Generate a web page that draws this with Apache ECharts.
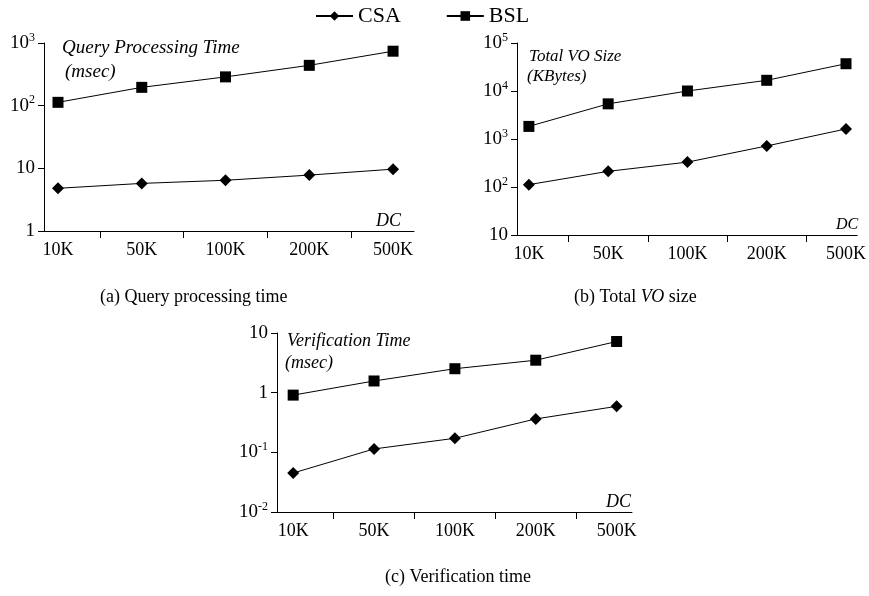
<!DOCTYPE html>
<html>
<head>
<meta charset="utf-8">
<script src="https://cdn.jsdelivr.net/npm/echarts@6/dist/echarts.min.js"></script>
<style>
html, body { margin: 0; padding: 0; background: #fff; }
#chart { width: 869px; height: 596px; }
</style>
</head>
<body>
<div id="chart"></div>
<script>
// DC sizes on the x axis
const dcLabels = ['10K', '50K', '100K', '200K', '500K'];

// (a) query processing time, msec
const queryCSA = [4.8, 5.75, 6.45, 7.8, 9.7];
const queryBSL = [113, 196, 288, 440, 740];

// (b) total VO size, KBytes
const voCSA = [112, 212, 330, 716, 1620];
const voBSL = [1830, 5400, 10000, 16700, 37000];

// (c) verification time, msec
const verCSA = [0.045, 0.114, 0.172, 0.363, 0.59];
const verBSL = [0.91, 1.57, 2.52, 3.5, 7.2];

const serif = 'Liberation Serif';

function pts(arr) {
    return arr.map((v, i) => [i, v]);
}

function logLabel(v) {
    const e = Math.round(Math.log10(v));
    if (e === 0) return '1';
    if (e === 1) return '10';
    return '10{sup|' + e + '}';
}

function xAxis(gridIndex, min, max) {
    return {
        type: 'value',
        gridIndex: gridIndex,
        min: min,
        max: max,
        splitLine: { show: false },
        axisLine: { lineStyle: { color: '#000', width: 1 } },
        axisTick: {
            customValues: [0.5, 1.5, 2.5, 3.5],
            length: 7,
            lineStyle: { color: '#000' }
        },
        axisLabel: {
            customValues: [0, 1, 2, 3, 4],
            formatter: v => dcLabels[Math.round(v)],
            color: '#000',
            fontFamily: serif,
            fontSize: 18,
            margin: 10
        }
    };
}

function yAxis(gridIndex, min, max) {
    return {
        type: 'log',
        logBase: 10,
        gridIndex: gridIndex,
        min: min,
        max: max,
        splitLine: { show: false },
        axisLine: { onZero: false, lineStyle: { color: '#000', width: 1 } },
        axisTick: { length: 6, lineStyle: { color: '#000' } },
        axisLabel: {
            formatter: logLabel,
            color: '#000',
            fontFamily: serif,
            fontSize: 19,
            margin: 9,
            rich: {
                sup: { fontFamily: serif, fontSize: 12, padding: [0, 0, 11, 0], color: '#000' }
            }
        }
    };
}

function series(name, data, idx) {
    const isCSA = name === 'CSA';
    return {
        name: name,
        type: 'line',
        xAxisIndex: idx,
        yAxisIndex: idx,
        data: pts(data),
        symbol: isCSA ? 'diamond' : 'rect',
        symbolSize: isCSA ? 12 : 11,
        itemStyle: { color: '#000' },
        lineStyle: { color: '#000', width: 1 },
        emphasis: { disabled: true }
    };
}

function txt(text, x, y, size, italic, align) {
    return {
        type: 'text',
        left: x,
        top: y,
        style: {
            text: text,
            fill: '#000',
            font: (italic ? 'italic ' : '') + size + 'px ' + serif,
            align: align || 'left',
            verticalAlign: 'middle'
        }
    };
}

var myChart = echarts.init(document.getElementById('chart'));

myChart.setOption({
    animation: false,
    legend: {
        data: ['CSA', 'BSL'],
        left: 310,
        top: 0,
        itemGap: 45,
        itemWidth: 37,
        itemHeight: 12,
        textStyle: { color: '#000', fontFamily: serif, fontSize: 22 }
    },
    grid: [
        { left: 44, top: 43, width: 370, height: 188 },
        { left: 517, top: 43, width: 346, height: 192 },
        { left: 277, top: 333, width: 355, height: 179 }
    ],
    xAxis: [
        xAxis(0, -0.167, 4.25),
        xAxis(1, -0.15, 4.14),
        xAxis(2, -0.2, 4.19)
    ],
    yAxis: [
        yAxis(0, 1, 1000),
        yAxis(1, 10, 100000),
        yAxis(2, 0.01, 10)
    ],
    series: [
        series('CSA', queryCSA, 0),
        series('BSL', queryBSL, 0),
        series('CSA', voCSA, 1),
        series('BSL', voBSL, 1),
        series('CSA', verCSA, 2),
        series('BSL', verBSL, 2)
    ],
    graphic: [
        txt('Query Processing Time', 62, 38, 19, true),
        txt('(msec)', 65, 62, 19, true),
        txt('DC', 376, 212, 18, true),
        txt('Total VO Size', 529, 48, 17, true),
        txt('(KBytes)', 527, 68, 17, true),
        txt('DC', 836, 217, 16, true),
        txt('Verification Time', 287, 332, 18, true),
        txt('(msec)', 285, 354, 18, true),
        txt('DC', 606, 493, 18, true),
        txt('(a) Query processing time', 100, 288, 18, false),
        {
            type: 'text',
            left: 574,
            top: 288,
            style: {
                rich: {
                    n: { font: '18px ' + serif, fill: '#000' },
                    i: { font: 'italic 18px ' + serif, fill: '#000' }
                },
                text: '{n|(b) Total }{i|VO}{n| size}'
            }
        },
        txt('(c) Verification time', 385, 568, 18, false)
    ]
});
</script>
</body>
</html>
